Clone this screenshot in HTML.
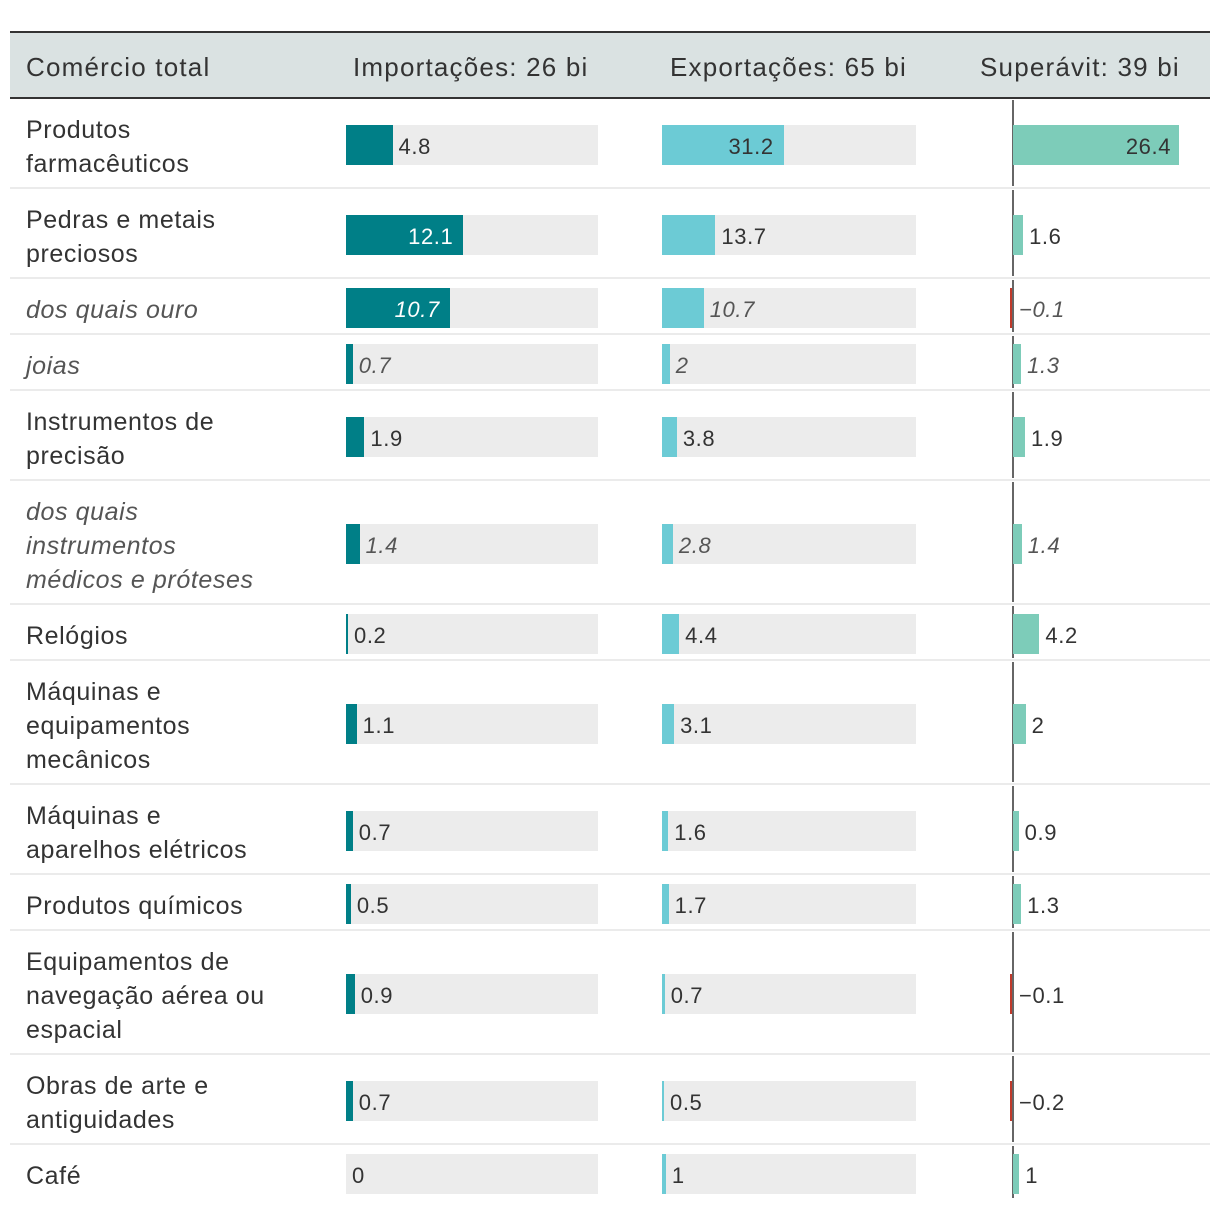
<!DOCTYPE html>
<html><head><meta charset="utf-8">
<style>
body{margin:0;width:1220px;height:1210px;background:#fff;font-family:"Liberation Sans",sans-serif;position:relative;overflow:hidden;color:#333}
.a{position:absolute}
.hdr{position:absolute;top:31px;left:10px;width:1200px;height:68px;background:#dae2e2;border-top:2px solid #333;border-bottom:2px solid #333;box-sizing:border-box}
.ht{position:absolute;top:52px;font-size:26px;letter-spacing:1.2px;color:#333}
.lab{position:absolute;left:26px;font-size:25px;letter-spacing:0.6px;line-height:34px;color:#333}
.val{position:absolute;font-size:22px;letter-spacing:0.6px;line-height:40px}
.it{font-style:italic;color:#555}
</style></head><body>
<div class="hdr"></div>
<div class="ht" style="left:26px">Comércio total</div>
<div class="ht" style="left:353px">Importações: 26 bi</div>
<div class="ht" style="left:670px">Exportações: 65 bi</div>
<div class="ht" style="left:980px">Superávit: 39 bi</div>
<div id="root"></div>
<script>
const categories=["Produtos<br>farmacêuticos","Pedras e metais<br>preciosos","dos quais ouro","joias","Instrumentos de<br>precisão","dos quais<br>instrumentos<br>médicos e próteses","Relógios","Máquinas e<br>equipamentos<br>mecânicos","Máquinas e<br>aparelhos elétricos","Produtos químicos","Equipamentos de<br>navegação aérea ou<br>espacial","Obras de arte e<br>antiguidades","Café"];
const italicRows=[false,false,true,true,false,true,false,false,false,false,false,false,false];
const imports=[4.8,12.1,10.7,0.7,1.9,1.4,0.2,1.1,0.7,0.5,0.9,0.7,0];
const exportsV=[31.2,13.7,10.7,2,3.8,2.8,4.4,3.1,1.6,1.7,0.7,0.5,1];
const surplus=[26.4,1.6,-0.1,1.3,1.9,1.4,4.2,2,0.9,1.3,-0.1,-0.2,1];
const rowTops=[98,188,278,334,390,480,604,660,784,874,930,1054,1144,1200];
const root=document.getElementById('root');
const impX=v=>v*9.7, expX=v=>v*3.9, surX=v=>v*6.29;
function el(cls,style,html){const d=document.createElement('div');d.className=cls;d.style.cssText=style;if(html!==undefined)d.innerHTML=html;root.appendChild(d);return d;}
function fmt(v){return v<0?'−'+Math.abs(v):String(v);}
categories.forEach((c,i)=>{
  const t=rowTops[i],b=rowTops[i+1],mid=(t+b)/2,by=mid-20+2;
  const it=italicRows[i]?' it':'';
  if(i<categories.length-1){const s=el('a',`left:10px;top:${b-1}px;width:1200px;height:2px;background:#ebebeb`);
  
  }
  const nl=(c.match(/<br>/g)||[]).length+1;
  const l=el('lab'+it,`top:${mid-nl*17+4}px`,c);
  
  
  const cols=[[346,252,impX,imports[i],'#007f87','#fff'],[662,254,expX,exportsV[i],'#6ccbd5','#333']];
  cols.forEach(([x0,w,sc,v,col,ic],k)=>{
    const bg=el('a',`left:${x0}px;top:${by}px;width:${w}px;height:40px;background:#ececec`);
    
    
    const bw=Math.max(sc(v),v>0?2:0);
    const bar=el('a',`left:${x0}px;top:${by}px;width:${bw}px;height:40px;background:${col}`);
    
    
    let vl;
    if(bw>80) vl=el('val'+it,`left:${x0}px;width:${bw-10}px;text-align:right;top:${by+2}px;color:${ic}`,fmt(v));
    else vl=el('val'+it,`left:${x0+bw+6}px;top:${by+2}px;color:${it?'#555':'#333'}`,fmt(v));
    
    
  });
  const ax=el('a',`left:1012px;top:${t+2}px;width:2px;height:${b-t-4}px;background:#666`);
  
  
  const v=surplus[i],sw=Math.abs(surX(v));
  const sb=el('a',`left:${v<0?1012-Math.max(sw,2):1013}px;top:${by}px;width:${Math.max(sw,2)}px;height:40px;background:${v<0?'#c0392b':'#7dccb9'}`);
  
  
  let sl;
  if(sw>80) sl=el('val'+it,`left:1013px;width:${sw-8}px;text-align:right;top:${by+2}px;color:#333`,fmt(v));
  else sl=el('val'+it,`left:${1013+(v>0?sw:0)+6}px;top:${by+2}px`,fmt(v));
  
  
});
</script>
</body></html>
